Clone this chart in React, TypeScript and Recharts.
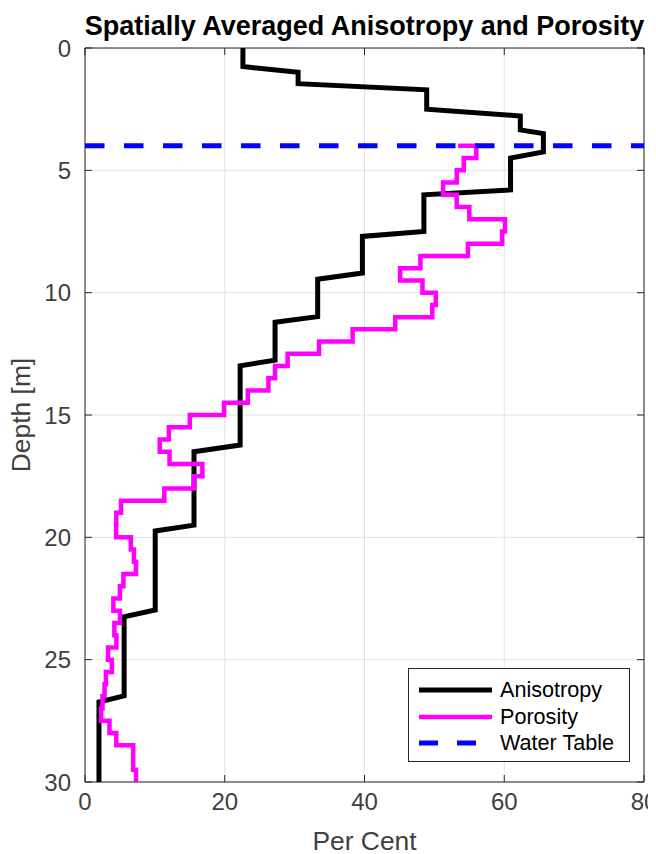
import React from "react";
import {
  ScatterChart,
  Scatter,
  XAxis,
  YAxis,
  CartesianGrid,
  ReferenceArea,
  Label,
} from "recharts";

// ---------- data ----------
const xTicks = [0, 20, 40, 60, 80];
const yTicks = [0, 5, 10, 15, 20, 25, 30];

// Anisotropy polyline vertices (Per Cent, depth m)
const anisotropyValues = [
  22.6, 22.6, 30.5, 30.5, 48.9, 48.9, 62.3, 62.3, 65.6, 65.6, 60.9, 60.9, 48.5, 48.5,
  39.7, 39.7, 33.3, 33.3, 27.2, 27.2, 22.2, 22.2, 15.6, 15.6, 10.05, 10.05, 5.6, 5.6,
  2.0, 2.0,
];
const anisotropyDepths = [
  0, 0.76, 0.99, 1.46, 1.71, 2.5, 2.78, 3.35, 3.5, 4.25, 4.5, 5.8, 6.0, 7.5, 7.7, 9.2,
  9.45, 10.98, 11.21, 12.76, 12.99, 16.23, 16.5, 19.5, 19.74, 22.97, 23.25, 26.48,
  26.73, 30,
];

// Porosity: stepped layers (top depth of each layer, value within layer)
const porosityStart = { value: 53.4, depth: 4.0 };
const porosityLayerTops = [
  4.0, 4.5, 5.0, 5.5, 6.0, 6.5, 7.0, 7.5, 8.0, 8.5, 9.0, 9.5, 10.0, 10.5, 11.0, 11.5,
  12.0, 12.5, 13.0, 13.5, 14.0, 14.5, 15.0, 15.5, 16.0, 16.5, 17.0, 17.5, 18.0, 18.5,
  19.0, 19.5, 20.0, 20.5, 21.0, 21.5, 22.0, 22.5, 23.0, 23.5, 24.0, 24.5, 25.0, 25.5,
  26.0, 26.5, 27.0, 27.5, 28.0, 28.5, 29.0, 29.5,
];
const porosityLayerBottoms = [
  4.5, 5.0, 5.5, 6.0, 6.5, 7.0, 7.5, 8.0, 8.5, 9.0, 9.5, 10.0, 10.5, 11.0, 11.5, 12.0,
  12.5, 13.0, 13.5, 14.0, 14.5, 15.0, 15.5, 16.0, 16.5, 17.0, 17.5, 18.0, 18.5, 19.0,
  19.5, 20.0, 20.5, 21.0, 21.5, 22.0, 22.5, 23.0, 23.5, 24.0, 24.5, 25.0, 25.5, 26.0,
  26.5, 27.0, 27.5, 28.0, 28.5, 29.0, 29.5, 30.0,
];
const porosityValues = [
  56.0, 54.2, 53.2, 51.25, 53.2, 55.0, 60.1, 59.7, 54.8, 48.0, 45.1, 48.3, 50.2, 49.7,
  44.4, 38.3, 33.5, 29.0, 27.2, 26.25, 23.3, 19.9, 15.0, 12.0, 10.7, 12.1, 16.8, 15.6,
  11.35, 5.16, 4.48, 4.45, 6.56, 7.0, 7.3, 5.5, 5.0, 4.06, 5.0, 4.2, 4.5, 3.3, 3.85,
  3.0, 2.8, 2.5, 2.3, 3.5, 4.48, 6.9, 6.9, 7.3,
];

// Water table
const waterTableDepth = 4;
const waterTableX = [0, 80];

const legendItems = [
  { name: "Anisotropy", color: "#000000", dash: "", width: 5 },
  { name: "Porosity", color: "#ff00ff", dash: "", width: 4.5 },
  { name: "Water Table", color: "#0000ff", dash: "19 19", width: 5 },
];

// ---------- derived tables ----------
const anisotropyData = anisotropyValues.map((v, i) => ({ value: v, depth: anisotropyDepths[i] }));
const porosityData: { value: number; depth: number }[] = [porosityStart];
porosityValues.forEach((v, i) => {
  porosityData.push({ value: v, depth: porosityLayerTops[i] });
  porosityData.push({ value: v, depth: porosityLayerBottoms[i] });
});
const waterTableData = waterTableX.map((x) => ({ value: x, depth: waterTableDepth }));

// ---------- layout ----------
const W = 648;
const H = 846;
const PLOT_LEFT = 77;
const PLOT_TOP = 40;
const PLOT_RIGHT = 636;
const PLOT_BOTTOM = 774;
const FONT = "'Liberation Sans', Arial, Helvetica, sans-serif";
const AXIS_COLOR = "#262626";
const TEXT_COLOR = "#404040";
const TICK_LEN = 7;

const XTick = (props: any) => {
  const { x, y, payload } = props;
  return (
    <g>
      <line x1={x} x2={x} y1={PLOT_BOTTOM} y2={PLOT_BOTTOM - TICK_LEN} stroke={AXIS_COLOR} strokeWidth={1} />
      <line x1={x} x2={x} y1={PLOT_TOP} y2={PLOT_TOP + TICK_LEN} stroke={AXIS_COLOR} strokeWidth={1} />
      <text x={x} y={y} dy="0.71em" textAnchor="middle" fill={TEXT_COLOR} fontSize={24} fontFamily={FONT}>
        {payload.value}
      </text>
    </g>
  );
};

const YTick = (props: any) => {
  const { x, y, payload } = props;
  return (
    <g>
      <line x1={PLOT_LEFT} x2={PLOT_LEFT + TICK_LEN} y1={y} y2={y} stroke={AXIS_COLOR} strokeWidth={1} />
      <line x1={PLOT_RIGHT} x2={PLOT_RIGHT - TICK_LEN} y1={y} y2={y} stroke={AXIS_COLOR} strokeWidth={1} />
      <text x={x} y={y} dy="0.355em" textAnchor="end" fill={TEXT_COLOR} fontSize={24} fontFamily={FONT}>
        {payload.value}
      </text>
    </g>
  );
};

const LegendBox = () => (
  <div
    style={{
      position: "absolute",
      left: 400,
      top: 660,
      width: 222,
      height: 94,
      boxSizing: "border-box",
      border: `1px solid ${AXIS_COLOR}`,
      background: "#ffffff",
      paddingTop: 8,
      fontFamily: FONT,
    }}
  >
    {legendItems.map((it) => (
      <div key={it.name} style={{ display: "flex", alignItems: "center", height: 26.5 }}>
        <svg width={91} height={20} style={{ display: "block", flex: "none" }}>
          <line
            x1={10}
            x2={83}
            y1={10}
            y2={10}
            stroke={it.color}
            strokeWidth={it.width}
            strokeDasharray={it.dash || undefined}
          />
        </svg>
        <span style={{ fontSize: 21.6, color: "#000", lineHeight: "26px", whiteSpace: "nowrap" }}>
          {it.name}
        </span>
      </div>
    ))}
  </div>
);

const noShape = () => <g />;

export default function App() {
  return (
    <div style={{ position: "relative", width: W, height: H }}>
      <ScatterChart
        width={W}
        height={H}
        margin={{ top: PLOT_TOP, right: W - PLOT_RIGHT, bottom: 32, left: 17 }}
        style={{ fontFamily: FONT }}
      >
        <CartesianGrid stroke="#e2e2e2" strokeWidth={1} vertical horizontal />
        <XAxis
          type="number"
          dataKey="value"
          domain={[0, 80]}
          ticks={xTicks}
          height={40}
          tickLine={false}
          tickSize={0}
          tickMargin={11}
          axisLine={false}
          tick={<XTick />}
          interval={0}
        >
          <Label
            content={() => (
              <text
                x={(PLOT_LEFT + PLOT_RIGHT) / 2}
                y={842}
                textAnchor="middle"
                fill={TEXT_COLOR}
                fontSize={26.4}
                fontFamily={FONT}
              >
                Per Cent
              </text>
            )}
          />
        </XAxis>
        <YAxis
          type="number"
          dataKey="depth"
          domain={[0, 30]}
          ticks={yTicks}
          reversed
          width={60}
          tickLine={false}
          tickSize={0}
          tickMargin={14}
          axisLine={false}
          tick={<YTick />}
          interval={0}
        >
          <Label
            content={() => (
              <text
                x={22}
                y={(PLOT_TOP + PLOT_BOTTOM) / 2}
                transform={`rotate(-90 22 ${(PLOT_TOP + PLOT_BOTTOM) / 2})`}
                textAnchor="middle"
                fill={TEXT_COLOR}
                fontSize={26.4}
                fontFamily={FONT}
              >
                Depth [m]
              </text>
            )}
          />
        </YAxis>
        <ReferenceArea x1={0} x2={80} y1={0} y2={30} fill="none" stroke={AXIS_COLOR} strokeWidth={1} />
        <Scatter
          name="Anisotropy"
          data={anisotropyData}
          line={{ stroke: "#000000", strokeWidth: 5, strokeLinejoin: "miter" }}
          lineType="joint"
          shape={noShape}
          isAnimationActive={false}
        />
        <Scatter
          name="Porosity"
          data={porosityData}
          line={{ stroke: "#ff00ff", strokeWidth: 4.5, strokeLinejoin: "miter" }}
          lineType="joint"
          shape={noShape}
          isAnimationActive={false}
        />
        <Scatter
          name="Water Table"
          data={waterTableData}
          line={{ stroke: "#0000ff", strokeWidth: 5, strokeDasharray: "19.5 19.5" }}
          lineType="joint"
          shape={noShape}
          isAnimationActive={false}
        />
      </ScatterChart>
      <LegendBox />
      <div
        style={{
          position: "absolute",
          left: (PLOT_LEFT + PLOT_RIGHT) / 2 - 350,
          width: 700,
          top: 3,
          textAlign: "center",
          fontFamily: FONT,
          fontWeight: "bold",
          fontSize: 27,
          lineHeight: "30px",
          color: "#000",
          whiteSpace: "nowrap",
        }}
      >
        Spatially Averaged Anisotropy and Porosity
      </div>
    </div>
  );
}
